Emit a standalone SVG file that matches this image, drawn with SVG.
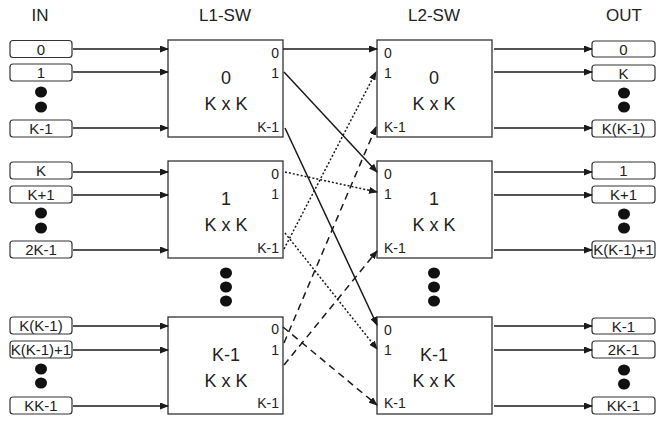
<svg xmlns="http://www.w3.org/2000/svg" width="658" height="423" viewBox="0 0 658 423">
<style>
text{font-family:"Liberation Sans",Arial,sans-serif;fill:#222}
.title{font-size:17px;text-anchor:middle}
.sw{fill:#fff;stroke:#333;stroke-width:1.3}
.port{fill:#fff;stroke:#333;stroke-width:1.2}
.pl{font-size:15px;text-anchor:middle}
.big{font-size:18px;text-anchor:middle}
.pr{font-size:14px;text-anchor:end}
.pln{font-size:14px;text-anchor:start}
.dot{fill:#111}
.w{fill:none;stroke:#1a1a1a;stroke-width:1.5;marker-end:url(#ah)}
.dt{stroke-dasharray:2 2}
.ds{stroke-dasharray:7 5}
</style>
<defs>
<marker id="ah" markerUnits="userSpaceOnUse" markerWidth="9" markerHeight="7" refX="8" refY="3.5" orient="auto">
<path d="M0,0 L9,3.5 L0,7 z" fill="#1a1a1a" stroke="none"/>
</marker>
</defs>
<text class="title" x="40" y="21">IN</text>
<text class="title" x="225" y="21">L1-SW</text>
<text class="title" x="434" y="21">L2-SW</text>
<text class="title" x="624" y="21">OUT</text>
<g id="in-group-0">
<rect class="port" x="10" y="40.5" width="62" height="17" rx="3"/><text class="pl" x="41" y="54.5">0</text>
<rect class="port" x="10" y="64" width="62" height="17" rx="3"/><text class="pl" x="41" y="78">1</text>
<ellipse class="dot" cx="41" cy="92" rx="6" ry="5.5"/><ellipse class="dot" cx="41" cy="107" rx="6" ry="5.5"/>
<rect class="port" x="10" y="120" width="62" height="17" rx="3"/><text class="pl" x="41" y="134">K-1</text>
</g>
<g id="in-group-1">
<rect class="port" x="10" y="162" width="62" height="17" rx="3"/><text class="pl" x="41" y="176">K</text>
<rect class="port" x="10" y="186" width="62" height="17" rx="3"/><text class="pl" x="41" y="200">K+1</text>
<ellipse class="dot" cx="41" cy="213" rx="6" ry="5.5"/><ellipse class="dot" cx="41" cy="228" rx="6" ry="5.5"/>
<rect class="port" x="10" y="241" width="62" height="17" rx="3"/><text class="pl" x="41" y="255">2K-1</text>
</g>
<g id="in-group-k1">
<rect class="port" x="10" y="317" width="62" height="17" rx="3"/><text class="pl" x="41" y="331">K(K-1)</text>
<rect class="port" x="10" y="341" width="62" height="17" rx="3"/><text class="pl" x="41" y="355">K(K-1)+1</text>
<ellipse class="dot" cx="41" cy="369" rx="6" ry="5.5"/><ellipse class="dot" cx="41" cy="383" rx="6" ry="5.5"/>
<rect class="port" x="10" y="397" width="62" height="17" rx="3"/><text class="pl" x="41" y="411">KK-1</text>
</g>
<g id="l1-0">
<rect class="sw" x="168" y="40" width="115" height="97"/>
<text class="big" x="226" y="84">0</text><text class="big" x="226" y="110">K x K</text>
<text class="pr" x="279" y="58">0</text><text class="pr" x="279" y="78">1</text><text class="pr" x="279" y="132">K-1</text>
</g>
<g id="l1-1">
<rect class="sw" x="168" y="161" width="115" height="97"/>
<text class="big" x="226" y="205">1</text><text class="big" x="226" y="231">K x K</text>
<text class="pr" x="279" y="179">0</text><text class="pr" x="279" y="199">1</text><text class="pr" x="279" y="253">K-1</text>
</g>
<g id="l1-k1">
<rect class="sw" x="168" y="317" width="115" height="97"/>
<text class="big" x="226" y="361">K-1</text><text class="big" x="226" y="387">K x K</text>
<text class="pr" x="279" y="334">0</text><text class="pr" x="279" y="355">1</text><text class="pr" x="279" y="408">K-1</text>
</g>
<g id="l1-dots">
<ellipse class="dot" cx="226" cy="273" rx="6" ry="5.5"/><ellipse class="dot" cx="226" cy="287" rx="6" ry="5.5"/><ellipse class="dot" cx="226" cy="301" rx="6" ry="5.5"/>
</g>
<g id="l2-0">
<rect class="sw" x="377" y="40" width="115" height="97"/>
<text class="big" x="434" y="84">0</text><text class="big" x="434" y="110">K x K</text>
<text class="pln" x="384" y="58">0</text><text class="pln" x="384" y="78">1</text><text class="pln" x="384" y="132">K-1</text>
</g>
<g id="l2-1">
<rect class="sw" x="377" y="161" width="115" height="97"/>
<text class="big" x="434" y="205">1</text><text class="big" x="434" y="231">K x K</text>
<text class="pln" x="384" y="179">0</text><text class="pln" x="384" y="199">1</text><text class="pln" x="384" y="253">K-1</text>
</g>
<g id="l2-k1">
<rect class="sw" x="377" y="317" width="115" height="97"/>
<text class="big" x="434" y="361">K-1</text><text class="big" x="434" y="387">K x K</text>
<text class="pln" x="384" y="335">0</text><text class="pln" x="384" y="355">1</text><text class="pln" x="384" y="408">K-1</text>
</g>
<g id="l2-dots">
<ellipse class="dot" cx="434" cy="273" rx="6" ry="5.5"/><ellipse class="dot" cx="434" cy="287" rx="6" ry="5.5"/><ellipse class="dot" cx="434" cy="301" rx="6" ry="5.5"/>
</g>
<g id="out-group-0">
<rect class="port" x="592" y="41" width="63" height="16" rx="3"/><text class="pl" x="623.5" y="54.5">0</text>
<rect class="port" x="592" y="65" width="63" height="16" rx="3"/><text class="pl" x="623.5" y="78.5">K</text>
<ellipse class="dot" cx="624" cy="93" rx="6" ry="5.5"/><ellipse class="dot" cx="624" cy="107" rx="6" ry="5.5"/>
<rect class="port" x="592" y="120" width="63" height="17" rx="3"/><text class="pl" x="623.5" y="134">K(K-1)</text>
</g>
<g id="out-group-1">
<rect class="port" x="592" y="162" width="63" height="17" rx="3"/><text class="pl" x="623.5" y="176">1</text>
<rect class="port" x="592" y="186" width="63" height="17" rx="3"/><text class="pl" x="623.5" y="200">K+1</text>
<ellipse class="dot" cx="624" cy="214" rx="6" ry="5.5"/><ellipse class="dot" cx="624" cy="228" rx="6" ry="5.5"/>
<rect class="port" x="592" y="241" width="63" height="17" rx="3"/><text class="pl" x="623.5" y="255">K(K-1)+1</text>
</g>
<g id="out-group-k1">
<rect class="port" x="592" y="318" width="63" height="16" rx="3"/><text class="pl" x="623.5" y="331.5">K-1</text>
<rect class="port" x="592" y="341" width="63" height="17" rx="3"/><text class="pl" x="623.5" y="355">2K-1</text>
<ellipse class="dot" cx="624" cy="370" rx="6" ry="5.5"/><ellipse class="dot" cx="624" cy="384" rx="6" ry="5.5"/>
<rect class="port" x="592" y="397" width="63" height="17" rx="3"/><text class="pl" x="623.5" y="411">KK-1</text>
</g>
<g id="connectors">
<path class="w" d="M73,49 H168"/><path class="w" d="M73,72 H168"/><path class="w" d="M73,128 H168"/>
<path class="w" d="M73,172 H168"/><path class="w" d="M73,195 H168"/><path class="w" d="M73,250 H168"/>
<path class="w" d="M73,326 H168"/><path class="w" d="M73,350 H168"/><path class="w" d="M73,406 H168"/>
<path class="w" d="M494,49 H592"/><path class="w" d="M494,72 H592"/><path class="w" d="M494,128 H592"/>
<path class="w" d="M494,172 H592"/><path class="w" d="M494,195 H592"/><path class="w" d="M494,250 H592"/>
<path class="w" d="M494,326 H592"/><path class="w" d="M494,350 H592"/><path class="w" d="M494,406 H592"/>
<path class="w" d="M283,49 L377,49"/>
<path class="w" d="M284,72 L377,172"/>
<path class="w" d="M285,128 L377,325"/>
<path class="w dt" d="M285,172 L377,192"/>
<path class="w dt" d="M284,249 L376,72"/>
<path class="w dt" d="M285,233 L377,349"/>
<path class="w ds" d="M283,327 L377,405"/>
<path class="w ds" d="M284,343 L376,127"/>
<path class="w ds" d="M284,365 L377,251"/>
</g>
</svg>
